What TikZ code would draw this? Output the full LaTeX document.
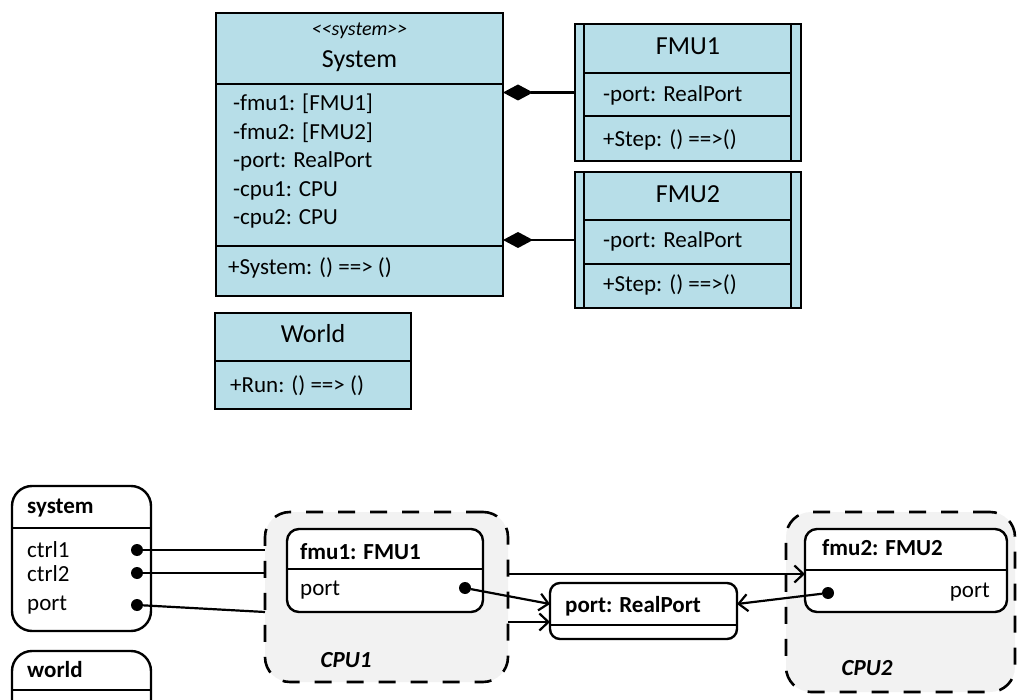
\documentclass[tikz,border=0pt]{standalone}
\usepackage{fontspec}
\setmainfont{Carlito}
\usetikzlibrary{arrows.meta}
\definecolor{classblue}{HTML}{B7DEE8}
\definecolor{cpugray}{HTML}{F2F2F2}
\begin{document}
\begin{tikzpicture}[x=1pt, y=-1pt,
    cls/.style={draw, line width=2pt, fill=classblue, inner sep=0pt, outer sep=0pt},
    inst/.style={draw, line width=2.4pt, fill=white, rounded corners=12pt, inner sep=0pt, outer sep=0pt},
    cpu/.style={draw, line width=2.6pt, dash pattern=on 17pt off 15pt, fill=cpugray, rounded corners=25pt, inner sep=0pt, outer sep=0pt},
    divider/.style={line width=1.5pt},
    clshead/.style={font=\fontsize{26}{30}\selectfont, inner sep=0pt, anchor=base},
    txt/.style={font=\fontsize{23}{28}\selectfont, inner sep=0pt, anchor=base west},
    btxt/.style={font=\bfseries\fontsize{23}{28}\selectfont, inner sep=0pt, anchor=base west},
    dot/.style={circle, fill, inner sep=0pt, minimum size=12pt},
    wire/.style={line width=2.2pt},
    arrow/.style={wire, -{Straight Barb[length=9pt, width=17pt, line width=2.2pt]}},
    comp/.style={line width=2.2pt, -{Diamond[length=30pt, width=16pt]}}
  ]
  \useasboundingbox (0,0) rectangle (1020,700);

  % class diagram
  \node[cls, minimum width=287pt, minimum height=283pt] (sys) at (359.5,154.5) {};
  \draw[divider] (sys.west |- 0,84) -- (sys.east |- 0,84);
  \draw[divider] (sys.west |- 0,246) -- (sys.east |- 0,246);
  \node[font=\itshape\fontsize{20}{22}\selectfont, inner sep=0pt, anchor=base] (sysstereo) at (359.5,36) {<\kern0pt<system>\kern0pt>};
  \node[clshead] (sysname) at (359.5,68) {System};
  \node[txt] (sysattr1) at (233,111) {-fmu1: [FMU1]};
  \node[txt] (sysattr2) at (233,140) {-fmu2: [FMU2]};
  \node[txt] (sysattr3) at (233,168) {-port: RealPort};
  \node[txt] (sysattr4) at (233,197) {-cpu1: CPU};
  \node[txt] (sysattr5) at (233,225) {-cpu2: CPU};
  \node[txt] (sysop) at (228,275) {+System: () ==> ()};

  \node[cls, minimum width=226pt, minimum height=137pt] (fmu1) at (688,92.5) {};
  \draw[divider] ([xshift=9pt]fmu1.north west) -- ([xshift=9pt]fmu1.south west);
  \draw[divider] ([xshift=-10pt]fmu1.north east) -- ([xshift=-10pt]fmu1.south east);
  \draw[divider] (584,73) -- (791,73);
  \draw[divider] (584,116) -- (791,116);
  \node[clshead] (fmu1name) at (688,55) {FMU1};
  \node[txt] (fmu1attr) at (603,102) {-port: RealPort};
  \node[txt] (fmu1op) at (603,147) {+Step: () ==>()};

  \node[cls, minimum width=226pt, minimum height=136pt] (fmu2) at (688,240) {};
  \draw[divider] ([xshift=9pt]fmu2.north west) -- ([xshift=9pt]fmu2.south west);
  \draw[divider] ([xshift=-10pt]fmu2.north east) -- ([xshift=-10pt]fmu2.south east);
  \draw[divider] (584,220) -- (791,220);
  \draw[divider] (584,264) -- (791,264);
  \node[clshead] (fmu2name) at (688,203) {FMU2};
  \node[txt] (fmu2attr) at (603,248) {-port: RealPort};
  \node[txt] (fmu2op) at (603,292) {+Step: () ==>()};

  \node[cls, minimum width=196pt, minimum height=96pt] (world) at (313,361) {};
  \draw[divider] (world.west) -- (world.east);
  \node[clshead] (worldname) at (313,343) {World};
  \node[txt] (worldop) at (230,392) {+Run: () ==> ()};

  \draw[comp] (fmu1.west) -- (fmu1.west -| sys.east);
  \draw[comp] (fmu2.west) -- (fmu2.west -| sys.east);

  % instances
  \node[cpu, minimum width=243pt, minimum height=170pt] (cpu1) at (386.5,597) {};
  \node[cpu, minimum width=229pt, minimum height=180pt] (cpu2) at (900.5,602) {};
  \node[font=\bfseries\itshape\fontsize{23}{28}\selectfont, inner sep=0pt, anchor=base] (cpu1name) at (346,667) {CPU1};
  \node[font=\bfseries\itshape\fontsize{23}{28}\selectfont, inner sep=0pt, anchor=base] (cpu2name) at (867,675) {CPU2};

  \node[inst, rounded corners=20pt, minimum width=139pt, minimum height=145pt] (sysinst) at (81.5,558.5) {};
  \draw[divider] (sysinst.west |- 0,528) -- (sysinst.east |- 0,528);
  \node[btxt] (sysinstname) at (27,513) {system};
  \node[txt] (ctrl1) at (27,557) {ctrl1};
  \node[txt] (ctrl2) at (27,581) {ctrl2};
  \node[txt] (sysport) at (27,610) {port};
  \node[dot] (ctrl1dot) at (137,550) {};
  \node[dot] (ctrl2dot) at (137,573) {};
  \node[dot] (sysportdot) at (137,605) {};

  \node[inst, rounded corners=20pt, minimum width=139pt, minimum height=69pt] (worldinst) at (81.5,685.5) {};
  \draw[divider] (worldinst.west |- 0,690) -- (worldinst.east |- 0,690);
  \node[btxt] (worldinstname) at (27,677) {world};

  \node[inst, minimum width=196pt, minimum height=83pt] (fmu1inst) at (385,570.5) {};
  \draw[divider] (fmu1inst.west |- 0,569) -- (fmu1inst.east |- 0,569);
  \node[btxt] (fmu1instname) at (300,559) {fmu1: FMU1};
  \node[txt] (fmu1port) at (300,595) {port};
  \node[dot] (fmu1dot) at (465,588) {};

  \node[inst, minimum width=202pt, minimum height=83pt] (fmu2inst) at (906,570.5) {};
  \draw[divider] (fmu2inst.west |- 0,570) -- (fmu2inst.east |- 0,570);
  \node[btxt] (fmu2instname) at (822,555) {fmu2: FMU2};
  \node[txt, anchor=base east] (fmu2port) at (990,597) {port};
  \node[dot] (fmu2dot) at (828,593) {};

  \node[inst, rounded corners=10pt, minimum width=187pt, minimum height=56pt] (realport) at (643.5,611) {};
  \draw[divider] (realport.west |- 0,625) -- (realport.east |- 0,625);
  \node[btxt] (realportname) at (565,612) {port: RealPort};

  \draw[wire] (ctrl1dot) -- (ctrl1dot -| cpu1.west);
  \draw[wire] (ctrl2dot) -- (ctrl2dot -| cpu1.west);
  \draw[wire] (sysportdot) -- (cpu1.west |- 0,612);
  \draw[arrow] (fmu1dot) -- (realport.west |- 0,604);
  \draw[arrow] (cpu1.east |- 0,622) -- (realport.west |- 0,622);
  \draw[arrow] (cpu1.east |- 0,574) -- (fmu2inst.west |- 0,574);
  \draw[arrow] (fmu2dot) -- (realport.east |- 0,604);
\end{tikzpicture}
\end{document}
